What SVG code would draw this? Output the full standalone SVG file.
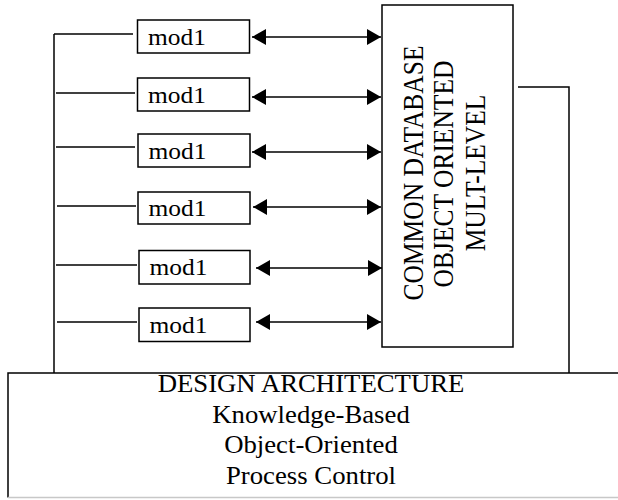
<svg xmlns="http://www.w3.org/2000/svg" width="618" height="500" viewBox="0 0 618 500">
  <style>
    .box { fill: #fff; stroke: #000; stroke-width: 1.5; }
    .wire { fill: none; stroke: #000; stroke-width: 1.5; }
    .arrow { fill: none; stroke: #000; stroke-width: 1.5; marker-start: url(#head-start); marker-end: url(#head-end); }
    .label { font-family: "Liberation Serif", "Times New Roman", serif; fill: #000; }
    .mod { font-size: 24px; }
    .db { font-size: 25.5px; }
    .arch { font-size: 25px; }
  </style>
  <defs>
    <marker id="head-end" markerUnits="userSpaceOnUse" markerWidth="14" markerHeight="16" viewBox="0 0 14 16" refX="14" refY="8" orient="auto">
      <polygon points="0,0 14,8 0,16" fill="#000"/>
    </marker>
    <marker id="head-start" markerUnits="userSpaceOnUse" markerWidth="14" markerHeight="16" viewBox="0 0 14 16" refX="0" refY="8" orient="auto">
      <polygon points="14,0 0,8 14,16" fill="#000"/>
    </marker>
  </defs>
  <rect width="618" height="500" fill="#fff"/>

  <!-- connectors -->
  <g id="connectors">
    <!-- left bus feeding every module -->
    <line class="wire" x1="54" y1="34" x2="54" y2="373"/>
    <line class="wire" x1="54" y1="34" x2="133" y2="34"/>
    <line class="wire" x1="56" y1="93" x2="135" y2="93"/>
    <line class="wire" x1="56" y1="147" x2="135" y2="147"/>
    <line class="wire" x1="57" y1="206" x2="136" y2="206"/>
    <line class="wire" x1="56" y1="265" x2="137" y2="265"/>
    <line class="wire" x1="57" y1="322" x2="137" y2="322"/>
    <!-- module to database links -->
    <line class="arrow" x1="252" y1="37" x2="381" y2="37"/>
    <line class="arrow" x1="252" y1="97" x2="381" y2="97"/>
    <line class="arrow" x1="252" y1="152" x2="381" y2="152"/>
    <line class="arrow" x1="253" y1="207" x2="381" y2="207"/>
    <line class="arrow" x1="256" y1="268" x2="382" y2="268"/>
    <line class="arrow" x1="256" y1="322" x2="381" y2="322"/>
    <!-- database down to architecture -->
    <polyline class="wire" points="518,87 569,87 569,373"/>
  </g>

  <!-- modules -->
  <g id="mod-1">
    <rect class="box" x="137.5" y="20" width="112" height="33"/>
    <text class="label mod" transform="translate(148,45) scale(1.06,1)">mod1</text>
  </g>
  <g id="mod-2">
    <rect class="box" x="137.5" y="78" width="112" height="33"/>
    <text class="label mod" transform="translate(148,103) scale(1.06,1)">mod1</text>
  </g>
  <g id="mod-3">
    <rect class="box" x="138" y="134" width="112" height="33"/>
    <text class="label mod" transform="translate(148.5,159) scale(1.06,1)">mod1</text>
  </g>
  <g id="mod-4">
    <rect class="box" x="138" y="192" width="112" height="32"/>
    <text class="label mod" transform="translate(148.5,216) scale(1.06,1)">mod1</text>
  </g>
  <g id="mod-5">
    <rect class="box" x="139" y="250.5" width="111" height="33.5"/>
    <text class="label mod" transform="translate(149.5,275) scale(1.06,1)">mod1</text>
  </g>
  <g id="mod-6">
    <rect class="box" x="139" y="308" width="111" height="33.5"/>
    <text class="label mod" transform="translate(149.5,333) scale(1.06,1)">mod1</text>
  </g>

  <!-- common database -->
  <g id="database">
    <rect class="box" x="382" y="5" width="131" height="342"/>
    <text class="label db" text-anchor="middle" transform="translate(423,173) scale(1.18,1) rotate(-90)">COMMON DATABASE</text>
    <text class="label db" text-anchor="middle" transform="translate(453,174) scale(1.18,1) rotate(-90)">OBJECT ORIENTED</text>
    <text class="label db" text-anchor="middle" transform="translate(485,173) scale(1.18,1) rotate(-90)">MULT-LEVEL</text>
  </g>

  <!-- design architecture -->
  <g id="architecture">
    <rect x="8" y="373" width="620" height="124.5" fill="#fff" stroke="none"/>
    <polyline class="wire" points="620,373 8,373 8,497.5"/>
    <line x1="8" y1="497.5" x2="618" y2="497.5" stroke="#c8c8c8" stroke-width="1.5"/>
    <g class="label arch" text-anchor="middle">
      <text transform="translate(311,392) scale(1.07,1)">DESIGN ARCHITECTURE</text>
      <text transform="translate(311,423) scale(1.07,1)">Knowledge-Based</text>
      <text transform="translate(311,453) scale(1.07,1)">Object-Oriented</text>
      <text transform="translate(311,484) scale(1.07,1)">Process Control</text>
    </g>
  </g>
</svg>
